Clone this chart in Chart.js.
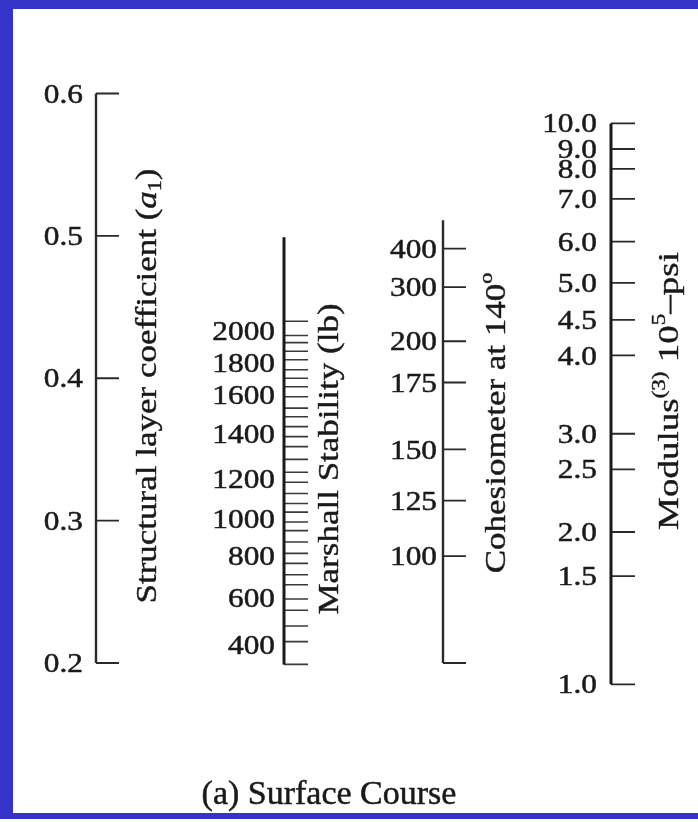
<!DOCTYPE html>
<html lang="en">
<head>
  <meta charset="UTF-8" />
  <title>Surface Course nomograph</title>
  <script src="https://cdn.jsdelivr.net/npm/chart.js@4"></script>
  <style>
    html, body { margin: 0; padding: 0; background: #fff; overflow: hidden; }
    #wrap { width: 698px; height: 822px; }
  </style>
</head>
<body>

<div id="wrap">
  <canvas id="nomo" width="698" height="822"></canvas>
</div>

<script>
  // every scale is placed against the structural layer coefficient (a1)
  const a1Ticks = [0.2, 0.3, 0.4, 0.5, 0.6];

  const marshallLabels = [400, 600, 800, 1000, 1200, 1400, 1600, 1800, 2000];
  const marshallAt = [0.213, 0.246, 0.275, 0.301, 0.329, 0.361, 0.388, 0.411, 0.433];
  const marshallMinorAt = [0.215, 0.226, 0.237, 0.245, 0.255, 0.262, 0.270, 0.277, 0.285,
    0.293, 0.299, 0.306, 0.312, 0.319, 0.327, 0.334, 0.343, 0.352, 0.359, 0.366, 0.373,
    0.379, 0.387, 0.394, 0.400, 0.406, 0.413, 0.419, 0.425, 0.430, 0.440];
  const marshallSpan = [0.199, 0.499];

  const cohesLabels = [100, 125, 150, 175, 200, 300, 400];
  const cohesAt = [0.275, 0.314, 0.350, 0.397, 0.426, 0.464, 0.491];
  const cohesSpan = [0.2, 0.511];

  const modulusLabels = ['1.0', '1.5', '2.0', '2.5', '3.0', '4.0', '4.5', '5.0', '6.0', '7.0', '8.0', '9.0', '10.0'];
  const modulusAt = [0.185, 0.261, 0.292, 0.336, 0.361, 0.416, 0.441, 0.467, 0.496, 0.526, 0.547, 0.561, 0.579];

  // layout
  const AX = { a1: 96, marshall: 284, cohes: 443, modulus: 611 };
  const TICK = 23;
  const INK = '#1a1a1a';
  const FRAME = '#3434C8';

  function spine(x, lo, hi) {
    return [{ x: x, y: hi }, { x: x, y: lo }];
  }
  function ticks(x, values, len) {
    const pts = [];
    values.forEach(v => {
      pts.push({ x: x, y: v }, { x: x + len, y: v }, { x: x, y: null });
    });
    return pts;
  }
  function lineSet(data, width, color) {
    return {
      data: data, showLine: true, spanGaps: false, pointRadius: 0,
      borderColor: color, borderWidth: width, fill: false
    };
  }

  const datasets = [
    lineSet(spine(AX.a1, a1Ticks[0], a1Ticks[a1Ticks.length - 1]), 2.4, '#2a2a2a'),
    lineSet(ticks(AX.a1, a1Ticks, TICK), 1.8, '#2a2a2a'),
    lineSet(spine(AX.marshall, marshallSpan[0], marshallSpan[1]), 3, INK),
    lineSet(ticks(AX.marshall, marshallMinorAt.concat([marshallSpan[0]]), TICK + 1), 1.6, '#3a3a3a'),
    lineSet(spine(AX.cohes, cohesSpan[0], cohesSpan[1]), 2.4, '#2a2a2a'),
    lineSet(ticks(AX.cohes, cohesAt.concat([cohesSpan[0]]), TICK), 1.8, '#2a2a2a'),
    lineSet(spine(AX.modulus, modulusAt[0], modulusAt[modulusAt.length - 1]), 3, INK),
    lineSet(ticks(AX.modulus, modulusAt, TICK + 1), 1.8, '#2a2a2a')
  ];

  function runFont(r, size) {
    const s = (r.sup || r.sub) ? Math.round(size * 0.62) : size;
    return (r.italic ? 'italic ' : '') + s + "px 'Liberation Serif', 'DejaVu Serif', serif";
  }

  // vertical title, reads bottom to top
  function drawTitle(ctx, runs, cx, cy, size, squash) {
    ctx.save();
    ctx.translate(cx, cy);
    ctx.rotate(-Math.PI / 2);
    ctx.scale(1, squash);
    ctx.fillStyle = INK;
    ctx.strokeStyle = INK;
    ctx.lineWidth = 0.5;
    ctx.textAlign = 'left';
    ctx.textBaseline = 'alphabetic';
    let total = 0;
    runs.forEach(r => { ctx.font = runFont(r, size); total += ctx.measureText(r.t).width; });
    let x = -total / 2;
    const base = size * 0.33;
    runs.forEach(r => {
      ctx.font = runFont(r, size);
      const dy = r.sup ? -size * 0.42 : (r.sub ? size * 0.18 : 0);
      ctx.fillText(r.t, x, base + dy);
      ctx.strokeText(r.t, x, base + dy);
      x += ctx.measureText(r.t).width;
    });
    ctx.restore();
  }

  function drawLabels(ctx, ys, axisX, gap, values, labels) {
    ctx.save();
    ctx.fillStyle = INK;
    ctx.strokeStyle = INK;
    ctx.lineWidth = 0.5;
    ctx.font = "27px 'Liberation Serif', 'DejaVu Serif', serif";
    ctx.textAlign = 'right';
    ctx.textBaseline = 'middle';
    values.forEach((v, i) => {
      ctx.save();
      ctx.translate(axisX - gap, ys.getPixelForValue(v) + 2);
      ctx.scale(1.16, 1);
      ctx.fillText(String(labels[i]), 0, 0);
      ctx.strokeText(String(labels[i]), 0, 0);
      ctx.restore();
    });
    ctx.restore();
  }

  const nomoText = {
    id: 'nomoText',
    beforeDraw(chart) {
      const ctx = chart.ctx;
      ctx.save();
      ctx.fillStyle = '#fff';
      ctx.fillRect(0, 0, chart.width, chart.height);
      ctx.fillStyle = FRAME;
      ctx.fillRect(0, 0, chart.width, 9);
      ctx.fillRect(0, 0, 13, 819);
      ctx.fillRect(0, 813, chart.width, 6);
      ctx.restore();
    },
    afterDatasetsDraw(chart) {
      const ctx = chart.ctx;
      const ys = chart.scales.y;

      drawLabels(ctx, ys, AX.a1, 13, a1Ticks, a1Ticks.map(v => v.toFixed(1)));
      drawLabels(ctx, ys, AX.marshall, 9, marshallAt, marshallLabels);
      drawLabels(ctx, ys, AX.cohes, 6, cohesAt, cohesLabels);
      drawLabels(ctx, ys, AX.modulus, 14, modulusAt, modulusLabels);

      drawTitle(ctx, [{ t: 'Structural layer coefficient (' }, { t: 'a', italic: true }, { t: '1', sub: true }, { t: ')' }], 146, 386, 35, 0.84);
      drawTitle(ctx, [{ t: 'Marshall Stability (lb)' }], 328, 459, 35, 0.84);
      drawTitle(ctx, [{ t: 'Cohesiometer at 140' }, { t: 'o', sup: true }], 495, 423, 35, 0.84);
      drawTitle(ctx, [{ t: 'Modulus' }, { t: '(3)', sup: true }, { t: ' 10' }, { t: '5', sup: true }, { t: '\u2013psi' }], 668, 391, 37, 0.8);

      ctx.save();
      ctx.fillStyle = INK;
      ctx.strokeStyle = INK;
      ctx.lineWidth = 0.5;
      ctx.font = "34px 'Liberation Serif', 'DejaVu Serif', serif";
      ctx.textAlign = 'center';
      ctx.textBaseline = 'alphabetic';
      ctx.fillText('(a) Surface Course', 329, 804);
      ctx.strokeText('(a) Surface Course', 329, 804);
      ctx.restore();
    }
  };

  new Chart(document.getElementById('nomo'), {
    type: 'scatter',
    data: { datasets: datasets },
    options: {
      responsive: false,
      animation: false,
      events: [],
      layout: { padding: 0 },
      plugins: { legend: { display: false }, tooltip: { enabled: false } },
      scales: {
        x: { type: 'linear', display: false, min: 0, max: 698 },
        y: { type: 'linear', display: false, min: 0.08832, max: 0.66567 }
      }
    },
    plugins: [nomoText]
  });
</script>

</body>
</html>
